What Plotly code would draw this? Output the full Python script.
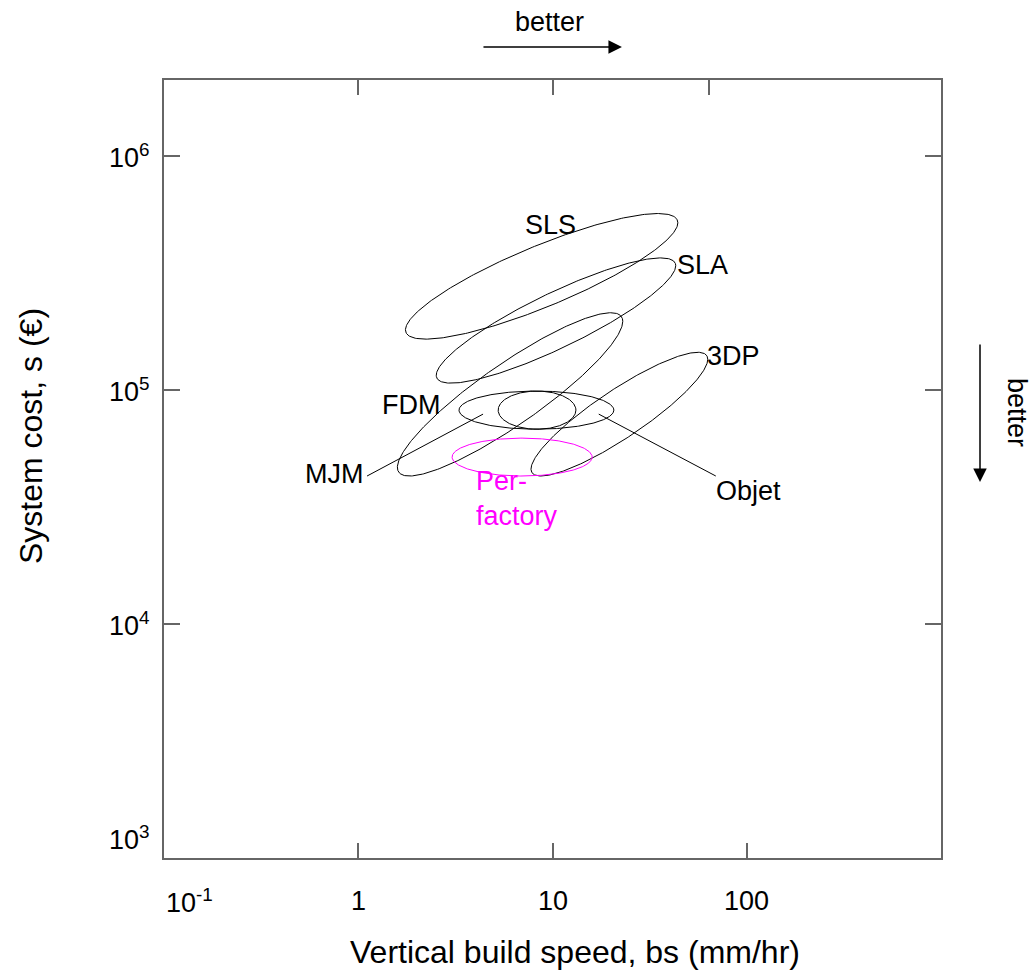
import numpy as np
import plotly.graph_objects as go

# ---------------- data ----------------
processes = ["SLS", "SLA", "FDM", "3DP", "Per-factory", "MJM", "Objet"]
speed_lo = [1.75, 2.52, 1.59, 7.75, 3.04, 3.3, 5.25]      # mm/hr
speed_hi = [44.2, 43.1, 23.0, 63.0, 16.0, 20.7, 13.2]
cost_lo = [165e3, 107e3, 42.9e3, 42.9e3, 42.9e3, 68e3, 68e3]   # EUR
cost_hi = [568e3, 367e3, 214e3, 145e3, 62.3e3, 99e3, 99e3]
tilt_deg = [31.5, 29.0, 26.6, 27.5, 90.0, 90.0, 90.0]      # 90 = axis aligned

label_text = ["SLS", "SLA", "FDM", "3DP", "Per-<br>factory", "MJM", "Objet"]
label_x = [9.8, 59.4, 1.87, 85.7, 3.95, 0.753, 102.0]
label_y = [509e3, 343e3, 86.3e3, 140e3, 34.4e3, 43.7e3, 36.9e3]

leader_names = ["MJM", "Objet"]
leader_x0 = [1.11, 69.3]
leader_y0 = [42.9e3, 42.9e3]
leader_x1 = [4.39, 17.3]
leader_y1 = [78.9e3, 78.9e3]

xtick_vals = [0.1, 1, 10, 100]
xtick_text = ["10<sup>-1</sup>", "1", "10", "100"]
ytick_vals = [1e3, 1e4, 1e5, 1e6]
ytick_text = ["10<sup>3</sup>", "10<sup>4</sup>", "10<sup>5</sup>", "10<sup>6</sup>"]
top_tick_vals = [1, 10, 64]

# ---------------- styles ----------------
FONT = "Liberation Sans, Arial, sans-serif"
MAGENTA = "#ff00ff"
colors = {"Per-factory": MAGENTA}
FRAME = "#666666"
LABEL_SIZE = 27
TICK_SIZE = 27
TITLE_SIZE = 32

fig = go.Figure()

t = np.linspace(0, 2 * np.pi, 361)
for name, xl, xh, yl, yh, d in zip(processes, speed_lo, speed_hi, cost_lo, cost_hi, tilt_deg):
    lx0, lx1 = np.log10(xl), np.log10(xh)
    ly0, ly1 = np.log10(yl), np.log10(yh)
    cx, ax = (lx0 + lx1) / 2, (lx1 - lx0) / 2
    cy, ay = (ly0 + ly1) / 2, (ly1 - ly0) / 2
    dr = np.deg2rad(d)
    lx = cx + ax * np.cos(t)
    ly = cy + ay * np.cos(t + dr)
    fig.add_trace(go.Scatter(
        x=10 ** lx, y=10 ** ly, mode="lines", name=name,
        line=dict(color=colors.get(name, "black"), width=1),
        hoverinfo="name", showlegend=False))

for name, x0, y0, x1, y1 in zip(leader_names, leader_x0, leader_y0, leader_x1, leader_y1):
    fig.add_trace(go.Scatter(x=[x0, x1], y=[y0, y1], mode="lines",
                             line=dict(color="black", width=1),
                             hoverinfo="skip", showlegend=False))

annotations = []
for name, txt, x, y in zip(processes, label_text, label_x, label_y):
    is_pf = name == "Per-factory"
    annotations.append(dict(
        x=np.log10(x), y=np.log10(y), xref="x", yref="y", text=txt, showarrow=False,
        xanchor="left" if is_pf else "center", yanchor="middle",
        align="left",
        font=dict(family=FONT, size=LABEL_SIZE, color=colors.get(name, "black"))))

# tick labels
for v, txt in zip(xtick_vals, xtick_text):
    annotations.append(dict(
        x=np.log10(v), y=0, xref="x", yref="paper", text=txt, showarrow=False,
        xanchor="left" if v == xtick_vals[0] else "center", yanchor="middle",
        yshift=-43, font=dict(family=FONT, size=TICK_SIZE, color="black")))
for v, txt in zip(ytick_vals, ytick_text):
    annotations.append(dict(
        x=0, y=np.log10(v), xref="paper", yref="y", text=txt, showarrow=False,
        xanchor="right", yanchor="middle", xshift=-12,
        yshift=20 if v == ytick_vals[0] else 0,
        font=dict(family=FONT, size=TICK_SIZE, color="black")))

# axis titles
annotations.append(dict(x=0.529, y=0, xref="paper", yref="paper",
                        text="Vertical build speed, bs (mm/hr)", showarrow=False,
                        xanchor="center", yanchor="middle", yshift=-94,
                        font=dict(family=FONT, size=TITLE_SIZE, color="black")))
annotations.append(dict(x=0, y=0.5424, xref="paper", yref="paper",
                        text="System cost, s (€)", showarrow=False, textangle=-90,
                        xanchor="center", yanchor="middle", xshift=-133,
                        font=dict(family=FONT, size=TITLE_SIZE, color="black")))

# "better" arrows
annotations.append(dict(x=0.5894, y=1.0424, xref="paper", yref="paper",
                        ax=-140, ay=0, axref="pixel", ayref="pixel", text="",
                        showarrow=True, arrowhead=2, arrowsize=1.8, arrowwidth=1.5,
                        arrowcolor="black"))
annotations.append(dict(x=0.5, y=1.0424, xref="paper", yref="paper",
                        text="better", showarrow=False, xanchor="center", yanchor="middle",
                        xshift=-3, yshift=25,
                        font=dict(family=FONT, size=LABEL_SIZE, color="black")))
annotations.append(dict(x=1.0502, y=0.4833, xref="paper", yref="paper",
                        ax=0, ay=-139, axref="pixel", ayref="pixel", text="",
                        showarrow=True, arrowhead=2, arrowsize=1.8, arrowwidth=1.5,
                        arrowcolor="black"))
annotations.append(dict(x=1.0502, y=0.4833, xref="paper", yref="paper",
                        text="better", showarrow=False, textangle=90,
                        xanchor="center", yanchor="middle", xshift=37, yshift=70,
                        font=dict(family=FONT, size=LABEL_SIZE, color="black")))

fig.update_layout(
    width=1031, height=971,
    margin=dict(l=164, r=90, t=80, b=113),
    paper_bgcolor="white", plot_bgcolor="white",
    showlegend=False,
    annotations=annotations,
    xaxis=dict(type="log", range=[-1, 3], showgrid=False, zeroline=False,
               showline=True, linecolor=FRAME, linewidth=1.5, mirror=True,
               ticks="inside", ticklen=15, tickwidth=1.5, tickcolor=FRAME,
               tickvals=xtick_vals, showticklabels=False),
    xaxis2=dict(type="log", range=[-1, 3], overlaying="x", side="top",
                showgrid=False, zeroline=False, showline=False,
                ticks="inside", ticklen=15, tickwidth=1.5, tickcolor=FRAME,
                tickvals=top_tick_vals, showticklabels=False),
    yaxis=dict(type="log", range=[3, 6.325], showgrid=False, zeroline=False,
               showline=True, linecolor=FRAME, linewidth=1.5, mirror="ticks",
               ticks="inside", ticklen=16, tickwidth=1.5, tickcolor=FRAME,
               tickvals=ytick_vals, showticklabels=False),
)
# invisible point to activate the top axis
fig.add_trace(go.Scatter(x=[1], y=[1e4], xaxis="x2", mode="markers",
                         marker=dict(opacity=0), hoverinfo="skip", showlegend=False))

fig.write_html("out.html")
